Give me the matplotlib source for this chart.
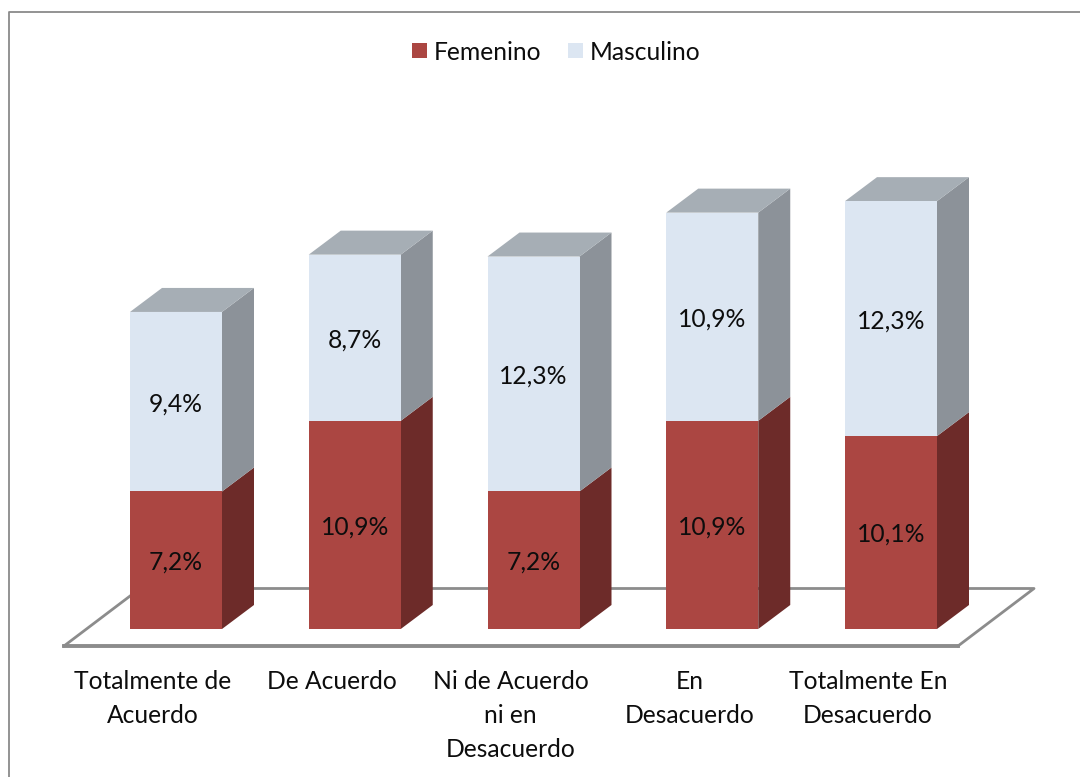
import matplotlib
matplotlib.use('Agg')
import matplotlib.pyplot as plt
from matplotlib.patches import Polygon, Rectangle

plt.rcParams['font.family'] = ['Lato', 'DejaVu Sans']

categories = ['Totalmente de\nAcuerdo', 'De Acuerdo', 'Ni de Acuerdo\nni en\nDesacuerdo',
              'En\nDesacuerdo', 'Totalmente En\nDesacuerdo']
femenino = [7.2, 10.9, 7.2, 10.9, 10.1]
masculino = [9.4, 8.7, 12.3, 10.9, 12.3]
fem_labels = ['7,2%', '10,9%', '7,2%', '10,9%', '10,1%']
mas_labels = ['9,4%', '8,7%', '12,3%', '10,9%', '12,3%']

W, H = 1080, 777
x0_px, step_px = 176.0, 178.75    # first bar centre, bar spacing
y0_px, unit_px = 629.0, 19.1      # baseline, pixels per percent
bar_w = 92 / step_px
dx = 32 / step_px                 # fake 3d depth
dy = 24 / unit_px
label_shift = -23 / step_px       # category labels sit left of the bars
label_drop = 2 / unit_px          # value labels sit a little under the middle
FS = 17.7

RED, RED_SIDE = '#ab4642', '#6d2b29'
BLUE, BLUE_SIDE, BLUE_TOP = '#dce6f2', '#8c9299', '#a6aeb5'
GREY = '#8c8c8c'
TXT = '#0d0d0d'


def px(x, y):
    # pixel position in the reference -> figure fraction
    return x / W, 1 - y / H


fig = plt.figure(figsize=(W / 100, H / 100), dpi=100)
ax = fig.add_axes([0, 0, 1, 1])
ax.set_xlim(-x0_px / step_px, (W - x0_px) / step_px)
ax.set_ylim((y0_px - H) / unit_px, y0_px / unit_px)
ax.axis('off')

# chart frame, runs off the right and bottom of the image
fig.add_artist(plt.Line2D(*zip(px(8.5, 777), px(8.5, 11.5), px(1080, 11.5)), color='#8a8a8a', lw=1.3))

# floor
ax.plot(*zip(px(64, 646), px(958, 646)), transform=fig.transFigure, color=GREY, lw=2.8, zorder=1.2)
ax.plot(*zip(px(64, 646), px(140, 588.5), px(1034, 588.5), px(958, 646)), transform=fig.transFigure,
        color=GREY, lw=2.0, zorder=1.1)

xs = list(range(len(categories)))
ax.bar(xs, femenino, width=bar_w, color=RED, zorder=3)
ax.bar(xs, masculino, width=bar_w, bottom=femenino, color=BLUE, zorder=3)

for x, f, m in zip(xs, femenino, masculino):
    r = x + bar_w / 2
    l = x - bar_w / 2
    t = f + m
    ax.add_patch(Polygon([(r, 0), (r + dx, dy), (r + dx, f + dy), (r, f)], fc=RED_SIDE, ec='none', zorder=2.5))
    ax.add_patch(Polygon([(r, f), (r + dx, f + dy), (r + dx, t + dy), (r, t)], fc=BLUE_SIDE, ec='none', zorder=2.5))
    ax.add_patch(Polygon([(l, t), (l + dx, t + dy), (r + dx, t + dy), (r, t)], fc=BLUE_TOP, ec='none', zorder=2.5))

for x, f, m, fl, ml in zip(xs, femenino, masculino, fem_labels, mas_labels):
    ax.text(x, f / 2 - label_drop, fl, ha='center', va='center', fontsize=FS, color=TXT, zorder=4)
    ax.text(x, f + m / 2 - label_drop, ml, ha='center', va='center', fontsize=FS, color=TXT, zorder=4)

for x, c in zip(xs, categories):
    ax.text(x + label_shift, -2.15, c, ha='center', va='top', fontsize=FS, color=TXT, linespacing=1.565)

# legend
fig.add_artist(Rectangle(px(412, 58), 15 / W, 15 / H, fc=RED, ec='none', transform=fig.transFigure))
fig.add_artist(Rectangle(px(568, 58), 15 / W, 15 / H, fc=BLUE, ec='none', transform=fig.transFigure))
fig.text(*px(434, 52), 'Femenino', ha='left', va='center', fontsize=FS, color=TXT)
fig.text(*px(590, 52), 'Masculino', ha='left', va='center', fontsize=FS, color=TXT)

fig.savefig('out.png', dpi=100)
